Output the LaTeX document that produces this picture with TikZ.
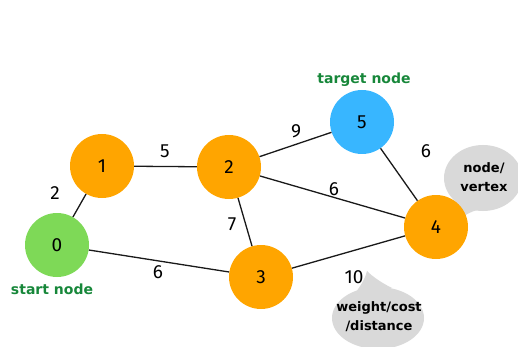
\documentclass[tikz,border=0pt]{standalone}
\usepackage{fontspec}
\setmainfont{Fira Sans}
\newfontfamily\notefont{DejaVu Sans}
\definecolor{orangeN}{HTML}{FFA500}
\definecolor{greenN}{HTML}{7ED957}
\definecolor{blueN}{HTML}{38B6FF}
\definecolor{bubble}{HTML}{D9D9D9}
\definecolor{greenT}{HTML}{17873A}
\begin{document}
\begin{tikzpicture}[x=1pt,y=-1pt,
  vnode/.style={circle,minimum size=64pt,inner sep=0pt,font=\fontsize{19}{22}\selectfont},
  wlabel/.style={font=\fontsize{19}{22}\selectfont,inner sep=0pt},
  note/.style={font=\notefont\fontsize{14}{16}\selectfont\bfseries,text=greenT,inner sep=0pt},
  btext/.style={font=\notefont\fontsize{13}{19}\selectfont\bfseries,align=center,inner sep=0pt},
  edge/.style={line width=1.3pt,black!90}]
\useasboundingbox (0,0) rectangle (518,347);
% bubbles
\fill[bubble] (483,178) ellipse [x radius=39pt,y radius=33pt];
\fill[bubble] (452,196) .. controls (458,206) and (462,212) .. (464,216) .. controls (470,212) and (476,210) .. (482,209) -- cycle;
\fill[bubble] (378,318) ellipse [x radius=46pt,y radius=31pt];
\fill[bubble] (356,292) .. controls (362,284) and (366,276) .. (367,271) .. controls (372,276) and (380,282) .. (392,288) -- cycle;
\node[btext] (bv) at (484,177) {node/\\vertex};
\node[btext] (bw) at (379,317) {weight/cost\\/distance};
% nodes
\node[vnode,fill=greenN] (n0) at (57,245) {0};
\node[vnode,fill=orangeN] (n1) at (102,166) {1};
\node[vnode,fill=orangeN] (n2) at (229,167) {2};
\node[vnode,fill=orangeN] (n3) at (261,277) {3};
\node[vnode,fill=orangeN] (n4) at (436,227) {4};
\node[vnode,fill=blueN] (n5) at (362,122) {5};
% edges
\draw[edge] (n0) -- (n1);
\draw[edge] (n1) -- (n2);
\draw[edge] (n2) -- (n5);
\draw[edge] (n2) -- (n4);
\draw[edge] (n2) -- (n3);
\draw[edge] (n0) -- (n3);
\draw[edge] (n3) -- (n4);
\draw[edge] (n5) -- (n4);
% weights
\node[wlabel] (w01) at (55,193) {2};
\node[wlabel] (w12) at (165,151) {5};
\node[wlabel] (w25) at (296,131) {9};
\node[wlabel] (w54) at (426,151) {6};
\node[wlabel] (w24) at (334,189) {6};
\node[wlabel] (w23) at (232,224) {7};
\node[wlabel] (w03) at (158,272) {6};
\node[wlabel] (w34) at (354,277) {10};
% notes
\node[note] (tn) at (364,80) {target node};
\node[note] (sn) at (52,289) {start node};
\end{tikzpicture}
\end{document}
